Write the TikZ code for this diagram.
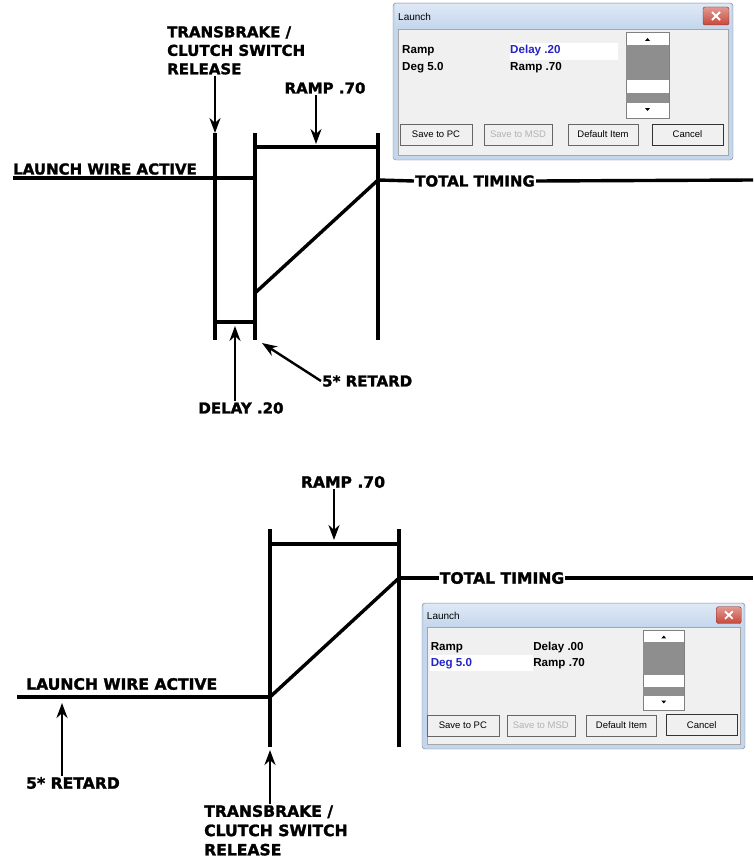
\documentclass[tikz,border=0pt]{standalone}
\usepackage{fontspec}
\setmainfont{DejaVu Sans}
\newfontfamily\tagfont{DejaVu Sans}[BoldFeatures={FakeBold=1.6}]
\newfontfamily\winfont{Liberation Sans}
\usetikzlibrary{arrows.meta}

\definecolor{winframe}{HTML}{C4D6EC}
\definecolor{wintitle}{HTML}{DDE8F5}
\definecolor{winface}{HTML}{F0F0F0}
\definecolor{winclose}{HTML}{C8483A}
\definecolor{winblue}{HTML}{2424C8}
\definecolor{scrollgray}{HTML}{8E8E8E}

\tikzset{
  wire/.style={line width=3.4pt},
  tag/.style={font=\tagfont\bfseries\fontsize{15}{18.5}\selectfont, inner sep=1pt, align=left},
  bigtag/.style={tag, font=\tagfont\bfseries\fontsize{15.6}{19.3}\selectfont},
  arr/.style={line width=2.4pt, -{Stealth[length=15pt,width=11pt]}},
  winlbl/.style={anchor=west, inner sep=0pt, font=\winfont\bfseries\fontsize{11.6}{13}\selectfont},
  winbtn/.style={draw=gray!80!black, fill=gray!12, minimum height=21pt, inner sep=0pt,
                 font=\winfont\fontsize{9.5}{10}\selectfont},
}

\newcommand{\launchwin}{%
  \draw[winframe!60!black, fill=winframe, rounded corners=3pt] (0,0) rectangle (340,157);
  \fill[top color=wintitle, bottom color=winframe] (2,2) rectangle (338,26);
  \draw[gray!70, fill=winface] (5,26) rectangle (335,152);
  \node[anchor=west, inner sep=0pt, font=\winfont\fontsize{10}{10}\selectfont] (title) at (5,14) {Launch};
  \draw[winclose!60!black, top color=winclose!55, bottom color=winclose, rounded corners=2pt] (310,4) rectangle (336,22);
  \draw[white, line width=1.8pt] (319,9) -- (327,17) (327,9) -- (319,17);
  \draw[gray, fill=white] (233,29) rectangle (276,115);
  \fill[scrollgray] (233,42) rectangle (276,77);
  \fill[scrollgray] (233,90) rectangle (276,100);
  \fill[black] (252,38) -- (257,38) -- (254.5,35) -- cycle;
  \fill[black] (252,105) -- (257,105) -- (254.5,108) -- cycle;
  \node[winbtn, minimum width=72pt] (pc) at (43,131.5) {Save to PC};
  \node[winbtn, minimum width=68pt, text=gray!60] (msd) at (125,131.5) {Save to MSD};
  \node[winbtn, minimum width=70pt] (dflt) at (210,131.5) {Default Item};
  \node[winbtn, minimum width=71pt, draw=black!80, line width=0.9pt] (cncl) at (294.5,131.5) {Cancel};
}

\begin{document}
\begin{tikzpicture}[x=1pt,y=-1pt]
\useasboundingbox (0,0) rectangle (753,859);

% top diagram
\coordinate (a1) at (215,133);
\coordinate (a2) at (215,340);
\coordinate (b1) at (255,133);
\coordinate (b2) at (255,340);
\coordinate (c1) at (378,133);
\coordinate (c2) at (378,340);
\coordinate (lw) at (13,178);
\coordinate (lwend) at (255,178);
\coordinate (rs) at (255,293);
\coordinate (re) at (378,180);
\coordinate (tend) at (753,180);
\coordinate (rtip) at (316,144);
\coordinate (dtip) at (235,326);
\coordinate (ktip) at (262,343);

\draw[wire] (a1) -- (a2);
\draw[wire] (b1) -- (b2);
\draw[wire] (c1) -- (c2);
\draw[wire] (lw) -- (lwend);
\draw[wire] (255,147) -- (378,147);
\draw[wire] (215,322) -- (255,322);
\draw[wire] (rs) -- (re);

\node[tag, anchor=north west] (tb) at (166,25) {TRANSBRAKE /\\CLUTCH SWITCH\\RELEASE};
\node[tag] (rt) at (325,88) {RAMP .70};
\node[tag, anchor=west] (lwa) at (12,169) {LAUNCH WIRE ACTIVE};
\node[tag] (tt) at (475,181) {TOTAL TIMING};
\node[tag] (dl) at (241,408) {DELAY .20};
\node[tag, anchor=west] (rd) at (321,381) {5* RETARD};

\draw[wire] (re) -- (tt.west);
\draw[wire] (tt.east) -- (tend);

\draw[arr] (tb.south -| a1) -- (a1);
\draw[arr] (rt.south -| rtip) -- (rtip);
\draw[arr] (dl.north -| dtip) -- (dtip);
\draw[arr] (rd.west) -- (ktip);

\begin{scope}[shift={(393,3)}]
  \launchwin
  \fill[white] (117,40) rectangle (225,57);
  \node[winlbl] (r1) at (9,48) {Ramp};
  \node[winlbl] (r2) at (9,65) {Deg 5.0};
  \node[winlbl, text=winblue] (r3) at (117,48) {Delay .20};
  \node[winlbl] (r4) at (117,65) {Ramp .70};
\end{scope}

% bottom diagram
\coordinate (p1) at (270,529);
\coordinate (p2) at (270,747);
\coordinate (q1) at (399,529);
\coordinate (q2) at (399,747);
\coordinate (mw) at (17,697);
\coordinate (ms) at (270,697);
\coordinate (me) at (399,578);
\coordinate (mend) at (753,578);
\coordinate (mtip) at (334,540);
\coordinate (ntip) at (62,703);
\coordinate (otip) at (270,750);

\draw[wire] (p1) -- (p2);
\draw[wire] (q1) -- (q2);
\draw[wire] (270,544) -- (399,544);
\draw[wire] (mw) -- (ms);
\draw[wire] (ms) -- (me);

\node[bigtag] (rt2) at (343,482) {RAMP .70};
\node[bigtag] (tt2) at (502,578) {TOTAL TIMING};
\node[bigtag, anchor=west] (lwa2) at (25,684) {LAUNCH WIRE ACTIVE};
\node[bigtag, anchor=west] (rd2) at (25,783) {5* RETARD};
\node[bigtag, anchor=north west] (tb2) at (203,804) {TRANSBRAKE /\\CLUTCH SWITCH\\RELEASE};

\draw[wire] (me) -- (tt2.west);
\draw[wire] (tt2.east) -- (mend);

\draw[arr] (rt2.south -| mtip) -- (mtip);
\draw[arr] (rd2.north -| ntip) -- (ntip);
\draw[arr] (tb2.north -| otip) -- (otip);

\begin{scope}[shift={(422,603)}, xscale=0.95, yscale=0.93]
  \launchwin
  \fill[white] (8,56) rectangle (117,73);
  \node[winlbl] (s1) at (9,48) {Ramp};
  \node[winlbl, text=winblue] (s2) at (9,65) {Deg 5.0};
  \node[winlbl] (s3) at (117,48) {Delay .00};
  \node[winlbl] (s4) at (117,65) {Ramp .70};
\end{scope}
\end{tikzpicture}
\end{document}
